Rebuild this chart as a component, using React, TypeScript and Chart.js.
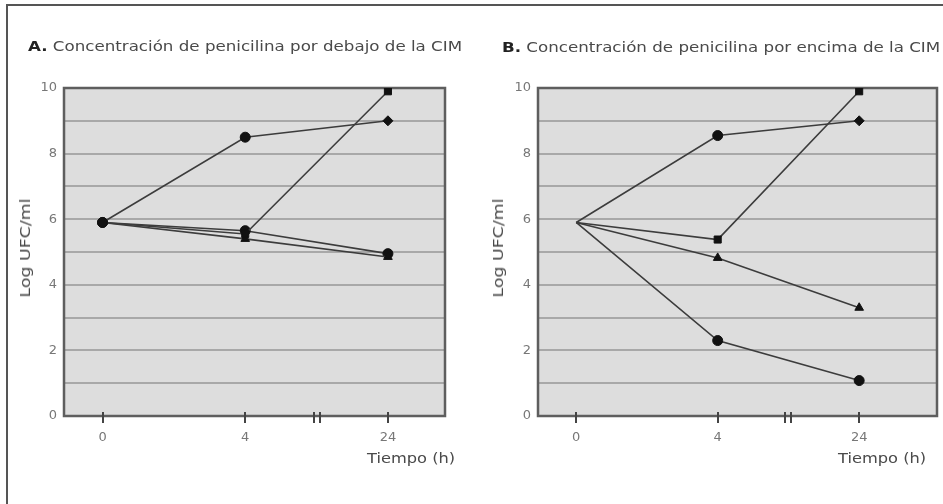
import React, { useEffect, useRef } from "react";
import { Chart, registerables } from "chart.js";

Chart.register(...registerables);

// ---- data ----
const timeLabels = ["0", "4", "24"];
const timeIndex = [0, 1, 2];
const breakIndex = 1.5;
const yMin = 0;
const yMax = 10;

// Panel A: below MIC
const aPlus = [5.9, 8.5, 9.0];
const aSquare = [5.9, 5.55, 9.9];
const aTriangle = [5.9, 5.4, 4.85];
const aCircle = [5.9, 5.65, 4.95];

// Panel B: above MIC
const bPlus = [5.9, 8.55, 9.0];
const bSquare = [5.9, 5.38, 9.9];
const bTriangle = [5.9, 4.82, 3.3];
const bCircle = [5.9, 2.3, 1.08];

const titleA = "Concentración de penicilina por debajo de la CIM";
const titleB = "Concentración de penicilina por encima de la CIM";
const yTitle = "Log UFC/ml";
const xTitle = "Tiempo (h)";

const FONT = "'DejaVu Sans', sans-serif";

const panelPlugin = {
  id: "panelDeco",
  beforeDraw(chart: any) {
    const { ctx, chartArea: a } = chart;
    ctx.save();
    ctx.fillStyle = "#dddddd";
    ctx.fillRect(a.left, a.top, a.right - a.left, a.bottom - a.top);
    ctx.restore();
  },
  beforeDatasetsDraw(chart: any) {
    const { ctx, chartArea: a } = chart;
    const xs = chart.scales.x;
    ctx.save();
    ctx.strokeStyle = "#5e5e5e";
    ctx.lineWidth = 2.5;
    ctx.strokeRect(a.left, a.top, a.right - a.left, a.bottom - a.top);
    ctx.strokeStyle = "#444";
    ctx.lineWidth = 2;
    for (const v of timeIndex) {
      const x = Math.round(xs.getPixelForValue(v));
      ctx.beginPath();
      ctx.moveTo(x, a.bottom - 4);
      ctx.lineTo(x, a.bottom + 7);
      ctx.stroke();
    }
    const bx = Math.round(xs.getPixelForValue(breakIndex));
    for (const dx of [-3, 3]) {
      ctx.beginPath();
      ctx.moveTo(bx + dx, a.bottom - 4);
      ctx.lineTo(bx + dx, a.bottom + 7);
      ctx.stroke();
    }
    ctx.restore();
  },
};

function makeDataset(data: number[], style: any, radius: any) {
  return {
    data: timeIndex.map((x, i) => ({ x, y: data[i] })),
    borderColor: "#3c3c3c",
    borderWidth: 1.6,
    backgroundColor: "#111",
    pointBackgroundColor: "#111",
    pointBorderColor: "#111",
    pointBorderWidth: 1,
    pointStyle: style,
    pointRadius: radius,
    tension: 0,
    fill: false,
  };
}

function makeConfig(
  series: number[][],
  opts: { yWidth: number; padRight: number; xMin: number; xMax: number; startRadius: number }
) {
  const styles: any[] = [
    ["circle", "circle", "rectRot"],
    "rect",
    "triangle",
    "circle",
  ];
  const r = opts.startRadius;
  return {
    type: "line" as const,
    data: {
      datasets: series.map((s, i) => makeDataset(s, styles[i], [r, 5, 5])),
    },
    options: {
      responsive: false,
      maintainAspectRatio: false,
      animation: false as const,
      layout: { padding: { top: 88, right: opts.padRight, bottom: 0, left: 0 } },
      plugins: { legend: { display: false }, tooltip: { enabled: false }, title: { display: false } },
      scales: {
        x: {
          type: "linear" as const,
          min: opts.xMin,
          max: opts.xMax,
          afterFit: (s: any) => {
            s.height = 88;
          },
          afterBuildTicks: (s: any) => {
            s.ticks = timeIndex.map((v) => ({ value: v }));
          },
          grid: { display: false, drawTicks: false },
          border: { display: false },
          ticks: {
            autoSkip: false,
            maxRotation: 0,
            padding: 14,
            color: "#777",
            font: { family: FONT, size: 13 },
            callback: (v: any) => {
              const i = timeIndex.indexOf(Number(v));
              return i >= 0 ? timeLabels[i] : "";
            },
          },
        },
        y: {
          min: yMin,
          max: yMax,
          afterFit: (s: any) => {
            s.width = opts.yWidth;
          },
          grid: { color: "#a8a8a8", lineWidth: 2, drawTicks: false },
          border: { display: false },
          ticks: {
            stepSize: 1,
            padding: 7,
            color: "#777",
            font: { family: FONT, size: 13 },
            callback: (v: any) => (Number(v) % 2 === 0 ? String(v) : ""),
          },
          title: { display: false },
        },
      },
    },
    plugins: [panelPlugin],
  };
}

function Panel(props: { left: number; width: number; config: any }) {
  const ref = useRef<HTMLCanvasElement | null>(null);
  useEffect(() => {
    if (!ref.current) return;
    const c = new Chart(ref.current, props.config);
    return () => c.destroy();
  }, []);
  return (
    <canvas
      ref={ref}
      width={props.width}
      height={504}
      style={{ position: "absolute", left: props.left, top: 0, width: props.width, height: 504 }}
    />
  );
}

const textStyle: React.CSSProperties = {
  position: "absolute",
  fontFamily: FONT,
  fontSize: 14.5,
  lineHeight: "16px",
  color: "#4a4a4a",
  whiteSpace: "nowrap",
  transformOrigin: "0 50%",
};

function YTitle(props: { cx: number; cy: number }) {
  return (
    <div
      style={{
        position: "absolute",
        left: props.cx,
        top: props.cy,
        fontFamily: FONT,
        fontSize: 14.5,
        lineHeight: "16px",
        color: "#4a4a4a",
        whiteSpace: "nowrap",
        transform: "translate(-50%, -50%) rotate(-90deg) scaleX(1.2)",
      }}
    >
      {yTitle}
    </div>
  );
}

export default function App() {
  const cfgA = makeConfig([aPlus, aSquare, aTriangle, aCircle], {
    yWidth: 64,
    padRight: 25,
    xMin: -0.27,
    xMax: 2.4,
    startRadius: 5,
  });
  const cfgB = makeConfig([bPlus, bSquare, bTriangle, bCircle], {
    yWidth: 68,
    padRight: 6,
    xMin: -0.27,
    xMax: 2.55,
    startRadius: 0,
  });
  return (
    <div
      style={{
        position: "fixed",
        left: 0,
        top: 0,
        width: 943,
        height: 504,
        background: "#fff",
        overflow: "hidden",
      }}
    >
      <div
        style={{
          position: "absolute",
          left: 6,
          top: 4,
          width: 940,
          height: 510,
          borderLeft: "2px solid #555",
          borderTop: "2px solid #555",
        }}
      />
      <Panel left={0} width={470} config={cfgA} />
      <Panel left={470} width={473} config={cfgB} />
      <div style={{ ...textStyle, left: 28, top: 38, transform: "scaleX(1.15)" }}>
        <b style={{ color: "#222" }}>A.</b> {titleA}
      </div>
      <div style={{ ...textStyle, left: 502, top: 39, transform: "scaleX(1.15)" }}>
        <b style={{ color: "#222" }}>B.</b> {titleB}
      </div>
      <div style={{ ...textStyle, left: 367, top: 450, transform: "scaleX(1.12)" }}>{xTitle}</div>
      <div style={{ ...textStyle, left: 838, top: 450, transform: "scaleX(1.12)" }}>{xTitle}</div>
      <YTitle cx={25} cy={248} />
      <YTitle cx={498} cy={248} />
    </div>
  );
}
